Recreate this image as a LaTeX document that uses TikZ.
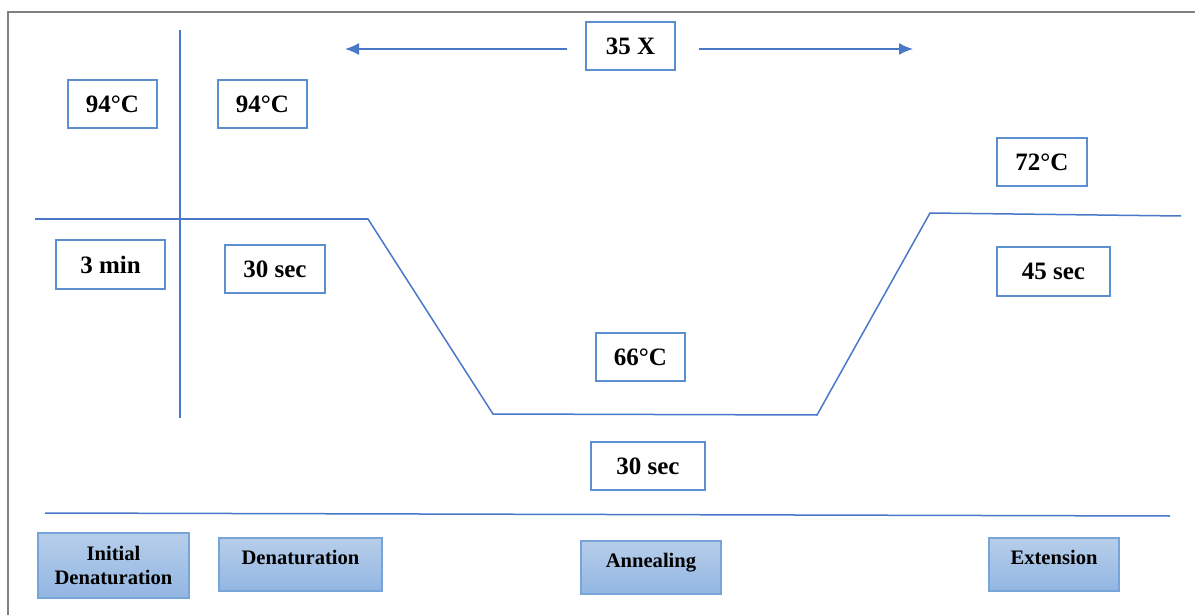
\documentclass[tikz,border=0pt]{standalone}
\usepackage{fontspec}
\setmainfont{Liberation Serif}
\usetikzlibrary{arrows.meta}
\definecolor{lineblue}{HTML}{4A78C8}
\definecolor{boxblue}{HTML}{5B8FCF}
\definecolor{phasetop}{HTML}{B7CEEA}
\definecolor{phasebot}{HTML}{92B6E2}
\definecolor{phaseedge}{HTML}{78A5D9}
\definecolor{framegray}{HTML}{808080}
\tikzset{
  valbox/.style={draw=boxblue, line width=0.7pt, fill=white, inner sep=0pt,
    font=\fontsize{12.5}{14}\selectfont\bfseries},
  phasebox/.style={draw=phaseedge, line width=0.7pt, top color=phasetop, bottom color=phasebot,
    inner sep=0pt, align=center, font=\fontsize{10.3}{12}\selectfont\bfseries},
  profile/.style={draw=lineblue, line width=0.75pt},
  cyclearrow/.style={draw=lineblue, line width=0.75pt, -{Latex[length=7pt,width=6pt]}}
}
\begin{document}
\begin{tikzpicture}[x=0.5pt,y=-0.5pt]
\useasboundingbox (0,0) rectangle (1195,615);
% frame
\draw[framegray, line width=1pt] (8,615) -- (8,12) -- (1195,12);

% axis-like lines
\coordinate (vtop) at (180,30);
\coordinate (vbot) at (180,418);
\draw[profile] (vtop) -- (vbot);

% temperature profile
\coordinate (p0) at (35,219);
\coordinate (p1) at (368,219);
\coordinate (p2) at (493,414);
\coordinate (p3) at (817,415);
\coordinate (p4) at (930,213);
\coordinate (p5) at (1181,216);
\draw[profile] (p0) -- (p1) -- (p2) -- (p3) -- (p4) -- (p5);

% base line
\coordinate (b0) at (45,513);
\coordinate (b1) at (1170,516);
\draw[profile] (b0) -- (b1);

% value boxes
\node[valbox, minimum width=44.5pt, minimum height=24pt] (t1) at (112.5,104) {94\textdegree C};
\node[valbox, minimum width=44.5pt, minimum height=24pt] (t2) at (262.5,104) {94\textdegree C};
\node[valbox, minimum width=54.5pt, minimum height=24.5pt] (d1) at (110.5,264.5) {3 min};
\node[valbox, minimum width=50pt, minimum height=24pt] (d2) at (275,269) {30 sec};
\node[valbox, minimum width=44.5pt, minimum height=24pt] (cyc) at (630.5,46) {35 X};
\node[valbox, minimum width=45pt, minimum height=24pt] (t4) at (1042,162) {72\textdegree C};
\node[valbox, minimum width=56.5pt, minimum height=24.5pt] (d4) at (1053.5,271.5) {45 sec};
\node[valbox, minimum width=44.5pt, minimum height=24pt] (t3) at (640.5,357) {66\textdegree C};
\node[valbox, minimum width=57pt, minimum height=24pt] (d3) at (648,466) {30 sec};

% cycle arrows
\coordinate (la) at (345,49);
\coordinate (ra) at (913,49);
\draw[cyclearrow] ([xshift=-9pt,yshift=-1.5pt]cyc.west) -- (la);
\draw[cyclearrow] ([xshift=11.5pt,yshift=-1.5pt]cyc.east) -- (ra);

% phase boxes
\node[phasebox, minimum width=75.5pt, minimum height=32.5pt] (ph1) at (113.5,565.5) {Initial\\Denaturation};
\node[phasebox, minimum width=81.5pt, minimum height=26.5pt, text depth=7pt] (ph2) at (300.5,564.5) {Denaturation};
\node[phasebox, minimum width=70pt, minimum height=26.5pt, text depth=7pt] (ph3) at (651,567.5) {Annealing};
\node[phasebox, minimum width=65pt, minimum height=26.5pt, text depth=7pt] (ph4) at (1054,564.5) {Extension};
\end{tikzpicture}
\end{document}
